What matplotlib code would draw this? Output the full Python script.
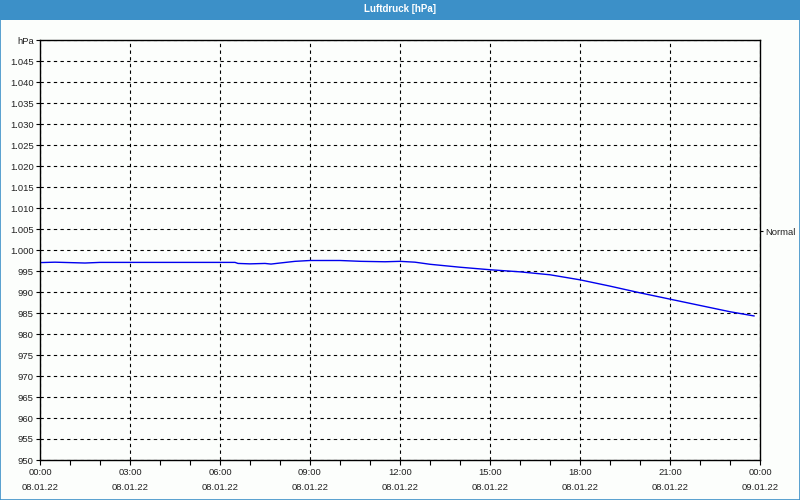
import matplotlib.pyplot as plt
from matplotlib.patches import Rectangle

plt.rcParams['font.family'] = ['Liberation Sans', 'DejaVu Sans']

# Luftdruck over one day (hours since 08.01.22 00:00)
hours = [0.0, 0.5, 1.0, 1.5, 2.0, 3.0, 4.0, 5.0, 6.0, 6.5, 6.6, 7.0, 7.5, 7.7,
         8.0, 8.5, 9.0, 10.0, 10.7, 11.5, 12.0, 12.5, 13.0, 14.0, 15.0, 16.0,
         17.0, 18.0, 19.0, 20.0, 21.0, 22.0, 23.0, 23.8]
pressure = [997.0, 997.1, 997.0, 996.9, 997.05, 997.05, 997.05, 997.05, 997.05,
            997.05, 996.8, 996.7, 996.8, 996.65, 996.9, 997.3, 997.5, 997.5,
            997.3, 997.2, 997.3, 997.1, 996.6, 995.9, 995.3, 994.8, 994.1,
            992.9, 991.4, 989.8, 988.3, 986.8, 985.3, 984.3]

x_ticks = [0, 3, 6, 9, 12, 15, 18, 21, 24]
x_labels = ['00:00\n08.01.22', '03:00\n08.01.22', '06:00\n08.01.22',
            '09:00\n08.01.22', '12:00\n08.01.22', '15:00\n08.01.22',
            '18:00\n08.01.22', '21:00\n08.01.22', '00:00\n09.01.22']
y_ticks = list(range(950, 1051, 5))
normal_level = 1004.5

title = 'Luftdruck [hPa]'
bar_blue = '#3c90c8'
bg = '#fcfefc'
fs = 6.8


def fmt_hpa(v):
    # German thousands separator, top tick shows the unit
    if v == 1050:
        return 'hPa'
    if v >= 1000:
        return '1.%03d' % (v - 1000)
    return str(v)


fig = plt.figure(figsize=(8, 5), dpi=100, facecolor=bg)

# title bar and frame
fig.patches.append(Rectangle((0, 0.96), 1, 0.04, transform=fig.transFigure,
                             facecolor=bar_blue, edgecolor='none', zorder=0))
fig.patches.append(Rectangle((0.0006, 0.001), 0.9988, 0.998, transform=fig.transFigure,
                             facecolor='none', edgecolor=bar_blue, lw=1.2, zorder=0))
fig.text(0.5, 0.981, title, color='white', fontsize=7, fontweight='bold',
         ha='center', va='center')

ax = fig.add_axes([0.05, 0.08, 0.90, 0.84])
ax.set_facecolor(bg)
ax.plot(hours, pressure, color='#0000ee', lw=1)

ax.set_xlim(0, 24)
ax.set_ylim(950, 1050)
ax.set_xticks(x_ticks)
ax.set_xticklabels(x_labels, linespacing=1.75)
ax.set_xticks(range(25), minor=True)
ax.set_yticks(y_ticks)
ax.set_yticklabels([fmt_hpa(v) for v in y_ticks])

ax.grid(True, color='black', linestyle=(0, (3, 3)), lw=0.8)
ax.tick_params(axis='both', labelsize=fs, colors='black', labelcolor='#222222',
               direction='out', length=3, width=0.8, pad=1.5)
ax.tick_params(axis='x', which='both', length=3.5, width=0.8, color='black')
ax.tick_params(axis='x', pad=2.5)
for s in ax.spines.values():
    s.set_color('black')
    s.set_linewidth(1)

# "Normal" marker on the right side
ax2 = ax.twinx()
ax2.set_ylim(950, 1050)
ax2.set_yticks([normal_level])
ax2.set_yticklabels(['Normal'])
ax2.tick_params(axis='y', labelsize=fs, labelcolor='#222222', length=2.5, width=0.8, pad=1.5)
for s in ax2.spines.values():
    s.set_visible(False)

fig.savefig('out.png', dpi=100, facecolor=bg)
